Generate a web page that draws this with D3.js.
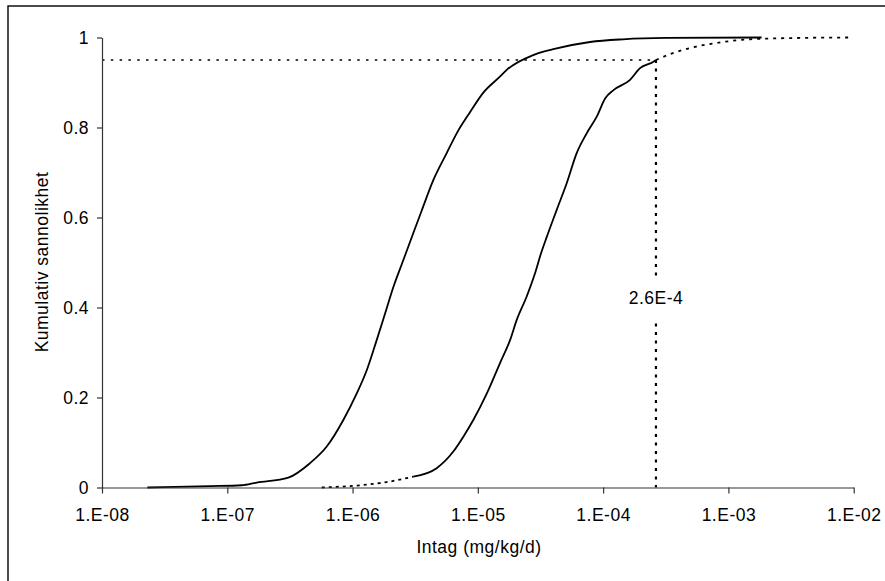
<!DOCTYPE html>
<html>
<head>
  <meta charset="utf-8">
  <script src="https://d3js.org/d3.v7.min.js"></script>
  <style>
    body { margin: 0; background: #fff; }
    svg text { font-family: "Liberation Sans", Arial, sans-serif; fill: #000; letter-spacing: 0.5px; }
  </style>
</head>
<body>
  <div id="chart"></div>
  <script type="text/javascript">
  // x tick positions + labels
  var xTicks = [1e-8, 1e-7, 1e-6, 1e-5, 1e-4, 1e-3, 1e-2];
  var xTickLabels = ["1.E-08", "1.E-07", "1.E-06", "1.E-05", "1.E-04", "1.E-03", "1.E-02"];
  var yTicks = [0, 0.2, 0.4, 0.6, 0.8, 1];
  var yTickLabels = ["0", "0.2", "0.4", "0.6", "0.8", "1"];

  // solid curve
  var solidX = [2.3e-8, 7.3e-8, 1.3e-7, 1.72e-7, 3.07e-7, 4.57e-7, 6.22e-7, 8.44e-7, 1.08e-6, 1.3e-6,
                1.56e-6, 1.82e-6, 2.12e-6, 2.5e-6, 3.05e-6, 3.56e-6, 4.41e-6, 5.64e-6, 6.78e-6, 8.66e-6,
                1.11e-5, 1.5e-5, 1.7e-5, 2.77e-5, 4.0e-5, 7.86e-5, 1.44e-4, 3.21e-4, 1.84e-3];
  var solidP = [0, 0.003, 0.005, 0.011, 0.022, 0.054, 0.091, 0.15, 0.209, 0.261,
                0.328, 0.387, 0.446, 0.5, 0.565, 0.615, 0.683, 0.743, 0.787, 0.834,
                0.878, 0.913, 0.928, 0.961, 0.974, 0.99, 0.996, 0.999, 1];

  // dotted curve
  var dotX = [5.68e-7, 1.15e-6, 1.87e-6, 3.05e-6, 4.69e-6, 6.37e-6, 7.66e-6, 9.2e-6, 1.18e-5, 1.5e-5,
              1.81e-5, 2.04e-5, 2.45e-5, 2.86e-5, 3.19e-5, 3.55e-5, 4.26e-5, 5.12e-5, 6.15e-5, 7.39e-5,
              8.89e-5, 1.04e-4, 1.21e-4, 1.64e-4, 1.97e-4, 2.52e-4, 2.64e-4, 3.42e-4, 5.58e-4, 8.07e-4,
              1.49e-3, 3.73e-3, 9.06e-3];
  var dotP = [0, 0.005, 0.012, 0.024, 0.043, 0.08, 0.113, 0.15, 0.209, 0.276,
              0.328, 0.372, 0.424, 0.476, 0.52, 0.557, 0.617, 0.676, 0.743, 0.787,
              0.824, 0.865, 0.883, 0.906, 0.932, 0.946, 0.95, 0.963, 0.98, 0.988,
              0.996, 0.999, 1];

  // 95th percentile marker
  var refP = 0.95;
  var refX = 2.64e-4;
  var refLabel = "2.6E-4";

  var width = 885, height = 581;
  var svg = d3.select("#chart").append("svg")
      .attr("width", width)
      .attr("height", height);

  svg.append("rect")
      .attr("x", 8).attr("y", 6)
      .attr("width", 900).attr("height", 600)
      .attr("fill", "#fff")
      .attr("stroke", "#000")
      .attr("stroke-width", 1.4);

  var x = d3.scaleLog().domain([1e-8, 1e-2]).range([102, 853.7]);
  var y = d3.scaleLinear().domain([0, 1]).range([487.5, 37.5]);

  // ref lines
  svg.append("line")
      .attr("x1", x(1e-8)).attr("x2", x(refX))
      .attr("y1", y(refP)).attr("y2", y(refP))
      .attr("stroke", "#000").attr("stroke-width", 1.3)
      .attr("stroke-dasharray", "2.5,6.3");
  svg.append("line")
      .attr("x1", x(refX)).attr("x2", x(refX))
      .attr("y1", y(refP)).attr("y2", y(0))
      .attr("stroke", "#000").attr("stroke-width", 2.2)
      .attr("stroke-dasharray", "3,5.5");

  var line = d3.line()
      .curve(d3.curveMonotoneX)
      .x(function(d) { return x(d[0]); })
      .y(function(d) { return y(d[1]); });

  var solid = d3.zip(solidX, solidP);
  var dots = d3.zip(dotX, dotP);

  svg.append("path")
      .attr("d", line(solid))
      .attr("fill", "none")
      .attr("stroke", "#000")
      .attr("stroke-width", 1.8);

  // the dotted series only shows gaps in the sparse tails
  var lowEnd = 3, highStart = 26;
  svg.append("path")
      .attr("d", line(dots.slice(0, lowEnd + 1)))
      .attr("fill", "none").attr("stroke", "#000").attr("stroke-width", 1.8)
      .attr("stroke-dasharray", "3,4");
  svg.append("path")
      .attr("d", line(dots.slice(lowEnd, highStart + 1)))
      .attr("fill", "none").attr("stroke", "#000").attr("stroke-width", 1.8);
  svg.append("path")
      .attr("d", line(dots.slice(highStart)))
      .attr("fill", "none").attr("stroke", "#000").attr("stroke-width", 1.8)
      .attr("stroke-dasharray", "3,5");

  // label on the vertical line
  var lbl = svg.append("g").attr("transform", "translate(" + x(refX) + ",298)");
  lbl.append("rect")
      .attr("x", -32).attr("y", -21).attr("width", 64).attr("height", 42)
      .attr("fill", "#fff");
  lbl.append("text")
      .attr("text-anchor", "middle")
      .attr("dy", "0.35em")
      .style("font-size", "17.5px")
      .text(refLabel);

  // axes
  var xAxis = d3.axisBottom(x)
      .tickValues(xTicks)
      .tickFormat(function(d, i) { return xTickLabels[i]; })
      .tickSizeInner(6).tickSizeOuter(0).tickPadding(15);
  var yAxis = d3.axisLeft(y)
      .tickValues(yTicks)
      .tickFormat(function(d, i) { return yTickLabels[i]; })
      .tickSizeInner(5).tickSizeOuter(0).tickPadding(8);

  var gx = svg.append("g").attr("transform", "translate(0," + y(0) + ")").call(xAxis);
  var gy = svg.append("g").attr("transform", "translate(" + x(1e-8) + ",0)").call(yAxis);
  [gx, gy].forEach(function(g) {
    g.select(".domain").attr("stroke", "#333").attr("stroke-width", 1.2);
    g.selectAll(".tick line").attr("stroke", "#333").attr("stroke-width", 1.2);
    g.selectAll(".tick text").style("font-size", "17.5px").attr("font-family", null).attr("fill", "#000");
  });

  svg.append("text")
      .attr("x", 479).attr("y", 553)
      .attr("text-anchor", "middle")
      .style("font-size", "17.5px")
      .text("Intag (mg/kg/d)");

  svg.append("text")
      .attr("transform", "translate(48,262) rotate(-90)")
      .attr("text-anchor", "middle")
      .style("font-size", "17.5px")
      .text("Kumulativ sannolikhet");
  </script>
</body>
</html>
